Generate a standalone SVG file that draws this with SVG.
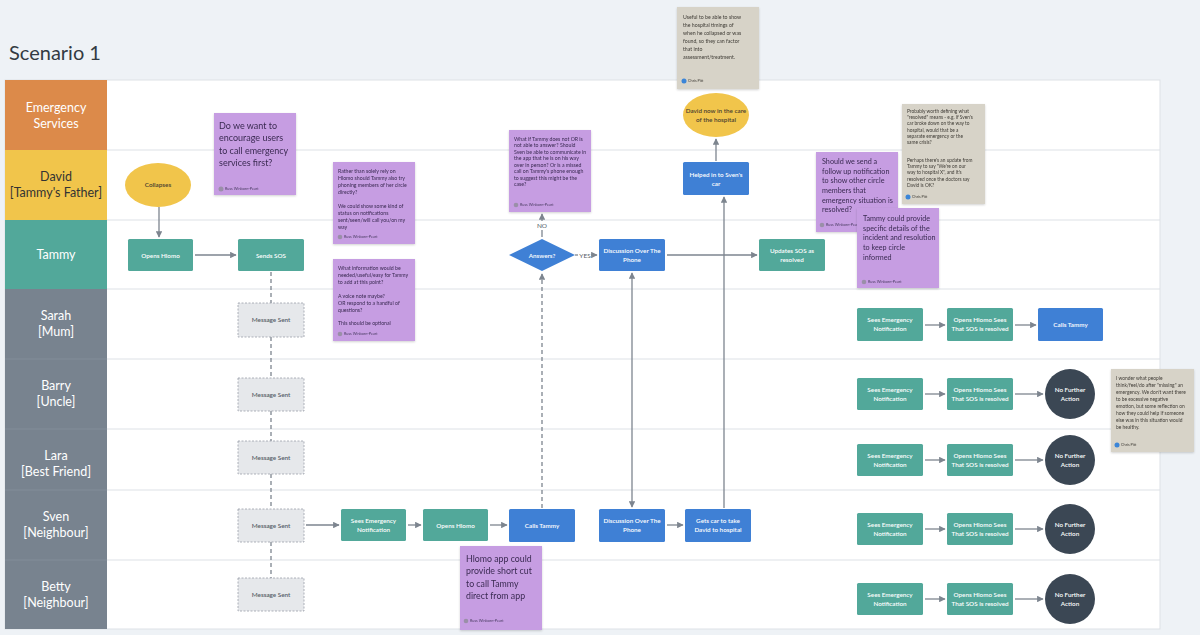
<svg xmlns="http://www.w3.org/2000/svg" width="1200" height="635" viewBox="0 0 1200 635">
<defs>
<marker id="ah" viewBox="0 0 10 10" refX="9" refY="5" markerWidth="5" markerHeight="5" orient="auto-start-reverse"><path d="M0,0 L10,5 L0,10 z" fill="#7d858f"/></marker>
<filter id="sh" x="-10%" y="-10%" width="130%" height="130%"><feDropShadow dx="0" dy="1" stdDeviation="1.2" flood-color="#000" flood-opacity="0.18"/></filter>
<style>
text{font-family:Lato,"Noto Sans","Liberation Sans",sans-serif}
.title{font-size:20px;fill:#333a42}
.lane{font-size:12.5px;fill:#fff;text-anchor:middle}
.lanedark{font-size:12.5px;fill:#333;text-anchor:middle}
.sep{stroke:#dde1e6;stroke-width:1}
.lsep{stroke:#8c96a1;stroke-width:0.6}
.teal{fill:#52a89a}
.blue{fill:#3f80d5}
.yel{fill:#f1c54b}
.dark{fill:#3b4754}
.msg{fill:#e6e8eb;stroke:#9aa0a8;stroke-width:0.8;stroke-dasharray:2 1.5}
.nt{font-size:6.3px;fill:#fff;text-anchor:middle;font-weight:600}
.ntd{font-size:6.3px;fill:#555c66;text-anchor:middle;font-weight:600}
.ntk{font-size:6.3px;fill:#4a4030;text-anchor:middle;font-weight:600}
.c{stroke:#7d858f;stroke-width:1.3;fill:none}
.cd{stroke:#7d858f;stroke-width:1.3;fill:none;stroke-dasharray:4 3}
.purple{fill:#c69de2}
.beige{fill:#d7d3c8}
.big{fill:#3a2a52}
.sm{font-size:5.2px;fill:#3a2a52}
.smb{font-size:5.2px;fill:#3f3c36}
.au{font-size:3.8px;fill:#4b3d63}
.aub{font-size:3.8px;fill:#3f3c36}
.lbl{font-size:6.5px;fill:#555c66;text-anchor:middle}
</style>
</defs>
<rect x="0" y="0" width="1200" height="635" fill="#eef2f6"/>
<text class="title" x="9" y="60">Scenario 1</text>
<rect x="5" y="80" width="1155" height="549" fill="#fff" stroke="#dde1e6"/>
<g id="lanes">
<line class="sep" x1="107" y1="150" x2="1160" y2="150"/>
<line class="sep" x1="107" y1="220" x2="1160" y2="220"/>
<line class="sep" x1="107" y1="289" x2="1160" y2="289"/>
<line class="sep" x1="107" y1="359" x2="1160" y2="359"/>
<line class="sep" x1="107" y1="429" x2="1160" y2="429"/>
<line class="sep" x1="107" y1="490" x2="1160" y2="490"/>
<line class="sep" x1="107" y1="560" x2="1160" y2="560"/>
<rect x="5" y="80" width="102" height="70" fill="#dc8a4a"/>
<rect x="5" y="150" width="102" height="70" fill="#f1c54b"/>
<rect x="5" y="220" width="102" height="69" fill="#52a89a"/>
<rect x="5" y="289" width="102" height="340" fill="#78838f"/>
<line class="lsep" x1="5" y1="359" x2="107" y2="359"/>
<line class="lsep" x1="5" y1="429" x2="107" y2="429"/>
<line class="lsep" x1="5" y1="490" x2="107" y2="490"/>
<line class="lsep" x1="5" y1="560" x2="107" y2="560"/>
<text class="lane" x="56" y="112">Emergency</text><text class="lane" x="56" y="128">Services</text>
<text class="lanedark" x="56" y="181">David</text><text class="lanedark" x="56" y="197">[Tammy's Father]</text>
<text class="lane" x="56" y="259">Tammy</text>
<text class="lane" x="56" y="320">Sarah</text><text class="lane" x="56" y="336">[Mum]</text>
<text class="lane" x="56" y="390">Barry</text><text class="lane" x="56" y="406">[Uncle]</text>
<text class="lane" x="56" y="460">Lara</text><text class="lane" x="56" y="476">[Best Friend]</text>
<text class="lane" x="56" y="521">Sven</text><text class="lane" x="56" y="537">[Neighbour]</text>
<text class="lane" x="56" y="591">Betty</text><text class="lane" x="56" y="607">[Neighbour]</text>
</g>
<g id="connectors">
<line class="c" x1="159" y1="207" x2="159" y2="237" marker-end="url(#ah)"/>
<line class="c" x1="195" y1="255" x2="236" y2="255" marker-end="url(#ah)"/>
<line class="cd" x1="271" y1="272" x2="271" y2="303"/>
<line class="cd" x1="271" y1="337" x2="271" y2="378"/>
<line class="cd" x1="271" y1="411" x2="271" y2="441"/>
<line class="cd" x1="271" y1="474" x2="271" y2="509"/>
<line class="cd" x1="271" y1="542" x2="271" y2="578"/>
<line class="c" x1="306" y1="525" x2="339" y2="525" marker-end="url(#ah)"/>
<line class="c" x1="408" y1="525" x2="421" y2="525" marker-end="url(#ah)"/>
<line class="c" x1="490" y1="525" x2="507" y2="525" marker-end="url(#ah)"/>
<line class="cd" x1="542" y1="508" x2="542" y2="274" marker-end="url(#ah)"/>
<line class="c" x1="542" y1="237" x2="542" y2="230"/>
<line class="c" x1="542" y1="221" x2="542" y2="214" marker-end="url(#ah)"/>
<text class="lbl" x="542" y="228">NO</text>
<line class="c" x1="575" y1="255" x2="578" y2="255"/>
<text class="lbl" x="585" y="257.5">YES</text>
<line class="c" x1="591" y1="255" x2="597" y2="255" marker-end="url(#ah)"/>
<line class="c" x1="667" y1="255" x2="757" y2="255" marker-end="url(#ah)"/>
<line class="c" x1="632" y1="507" x2="632" y2="273" marker-start="url(#ah)" marker-end="url(#ah)"/>
<line class="c" x1="667" y1="525" x2="683" y2="525" marker-end="url(#ah)"/>
<line class="c" x1="724" y1="508" x2="724" y2="197" marker-end="url(#ah)"/>
<line class="c" x1="716" y1="161" x2="716" y2="139" marker-end="url(#ah)"/>
<line class="c" x1="925" y1="325" x2="945" y2="325" marker-end="url(#ah)"/>
<line class="c" x1="1015" y1="325" x2="1036" y2="325" marker-end="url(#ah)"/>
<line class="c" x1="925" y1="394" x2="945" y2="394" marker-end="url(#ah)"/>
<line class="c" x1="1015" y1="394" x2="1043" y2="394" marker-end="url(#ah)"/>
<line class="c" x1="925" y1="460" x2="945" y2="460" marker-end="url(#ah)"/>
<line class="c" x1="1015" y1="460" x2="1043" y2="460" marker-end="url(#ah)"/>
<line class="c" x1="925" y1="529" x2="945" y2="529" marker-end="url(#ah)"/>
<line class="c" x1="1015" y1="529" x2="1043" y2="529" marker-end="url(#ah)"/>
<line class="c" x1="925" y1="599" x2="945" y2="599" marker-end="url(#ah)"/>
<line class="c" x1="1015" y1="599" x2="1043" y2="599" marker-end="url(#ah)"/>
</g>
<g id="collapses"><ellipse class="yel" cx="158" cy="185" rx="33" ry="22"/><text class="ntk" x="158" y="187">Collapses</text></g>
<g id="david-hospital"><ellipse class="yel" cx="716" cy="115" rx="33" ry="22"/><text class="ntk" x="716" y="113">David now in the care</text><text class="ntk" x="716" y="122">of the hospital</text></g>
<g id="helped"><rect class="blue" x="683" y="162" width="66" height="33" rx="1.5"/><text class="nt" x="716" y="177">Helped in to Sven's</text><text class="nt" x="716" y="186">car</text></g>
<g id="tammy-opens"><rect class="teal" x="128" y="239" width="65" height="32" rx="1.5"/><text class="nt" x="160.5" y="257.5">Opens Hlomo</text></g>
<g id="tammy-sos"><rect class="teal" x="238" y="239" width="66" height="32" rx="1.5"/><text class="nt" x="271" y="257.5">Sends SOS</text></g>
<g id="answers"><path class="blue" d="M542,239 L575,255 L542,271 L509,255 z"/><text class="nt" x="542" y="257.5">Answers?</text></g>
<g id="tammy-discussion"><rect class="blue" x="599" y="239" width="66" height="32" rx="1.5"/><text class="nt" x="632" y="253">Discussion Over The</text><text class="nt" x="632" y="262">Phone</text></g>
<g id="tammy-updates"><rect class="teal" x="759" y="239" width="66" height="32" rx="1.5"/><text class="nt" x="792" y="253">Updates SOS as</text><text class="nt" x="792" y="262">resolved</text></g>
<g id="msg-sarah"><rect class="msg" x="238" y="303" width="66" height="34"/><text class="ntd" x="271" y="322">Message Sent</text></g>
<g id="msg-barry"><rect class="msg" x="238" y="378" width="66" height="33"/><text class="ntd" x="271" y="396.5">Message Sent</text></g>
<g id="msg-lara"><rect class="msg" x="238" y="441" width="66" height="33"/><text class="ntd" x="271" y="459.5">Message Sent</text></g>
<g id="msg-sven"><rect class="msg" x="238" y="509" width="66" height="33"/><text class="ntd" x="271" y="527.5">Message Sent</text></g>
<g id="msg-betty"><rect class="msg" x="238" y="578" width="66" height="33"/><text class="ntd" x="271" y="596.5">Message Sent</text></g>
<g id="sven-sees"><rect class="teal" x="341" y="509" width="65" height="32" rx="1.5"/><text class="nt" x="373.5" y="523">Sees Emergency</text><text class="nt" x="373.5" y="532">Notification</text></g>
<g id="sven-opens"><rect class="teal" x="423" y="509" width="65" height="32" rx="1.5"/><text class="nt" x="455.5" y="527.5">Opens Hlomo</text></g>
<g id="sven-calls"><rect class="blue" x="509" y="509" width="66" height="33" rx="1.5"/><text class="nt" x="542" y="527.5">Calls Tammy</text></g>
<g id="sven-discussion"><rect class="blue" x="599" y="509" width="66" height="33" rx="1.5"/><text class="nt" x="632" y="523">Discussion Over The</text><text class="nt" x="632" y="532">Phone</text></g>
<g id="sven-car"><rect class="blue" x="685" y="509" width="66" height="33" rx="1.5"/><text class="nt" x="718" y="523">Gets car to take</text><text class="nt" x="718" y="532">David to hospital</text></g>
<g id="sarah-sees"><rect class="teal" x="857" y="308" width="66" height="33" rx="1.5"/><text class="nt" x="890" y="322">Sees Emergency</text><text class="nt" x="890" y="331">Notification</text></g>
<g id="sarah-opens"><rect class="teal" x="947" y="308" width="66" height="33" rx="1.5"/><text class="nt" x="980" y="322">Opens Hlomo Sees</text><text class="nt" x="980" y="331">That SOS is resolved</text></g>
<g id="sarah-calls"><rect class="blue" x="1038" y="308" width="65" height="33" rx="1.5"/><text class="nt" x="1070.5" y="326.5">Calls Tammy</text></g>
<g id="barry-sees"><rect class="teal" x="857" y="378" width="66" height="32" rx="1.5"/><text class="nt" x="890" y="391.5">Sees Emergency</text><text class="nt" x="890" y="400.5">Notification</text></g>
<g id="barry-opens"><rect class="teal" x="947" y="378" width="66" height="32" rx="1.5"/><text class="nt" x="980" y="391.5">Opens Hlomo Sees</text><text class="nt" x="980" y="400.5">That SOS is resolved</text></g>
<g id="barry-end"><circle class="dark" cx="1070" cy="394" r="25"/><text class="nt" x="1070" y="391.5">No Further</text><text class="nt" x="1070" y="400.5">Action</text></g>
<g id="lara-sees"><rect class="teal" x="857" y="444" width="66" height="32" rx="1.5"/><text class="nt" x="890" y="457.5">Sees Emergency</text><text class="nt" x="890" y="466.5">Notification</text></g>
<g id="lara-opens"><rect class="teal" x="947" y="444" width="66" height="32" rx="1.5"/><text class="nt" x="980" y="457.5">Opens Hlomo Sees</text><text class="nt" x="980" y="466.5">That SOS is resolved</text></g>
<g id="lara-end"><circle class="dark" cx="1070" cy="460" r="25"/><text class="nt" x="1070" y="457.5">No Further</text><text class="nt" x="1070" y="466.5">Action</text></g>
<g id="sven-sees2"><rect class="teal" x="857" y="513" width="66" height="32" rx="1.5"/><text class="nt" x="890" y="526.5">Sees Emergency</text><text class="nt" x="890" y="535.5">Notification</text></g>
<g id="sven-opens2"><rect class="teal" x="947" y="513" width="66" height="32" rx="1.5"/><text class="nt" x="980" y="526.5">Opens Hlomo Sees</text><text class="nt" x="980" y="535.5">That SOS is resolved</text></g>
<g id="sven-end"><circle class="dark" cx="1070" cy="529" r="25"/><text class="nt" x="1070" y="526.5">No Further</text><text class="nt" x="1070" y="535.5">Action</text></g>
<g id="betty-sees"><rect class="teal" x="857" y="583" width="66" height="32" rx="1.5"/><text class="nt" x="890" y="596.5">Sees Emergency</text><text class="nt" x="890" y="605.5">Notification</text></g>
<g id="betty-opens"><rect class="teal" x="947" y="583" width="66" height="32" rx="1.5"/><text class="nt" x="980" y="596.5">Opens Hlomo Sees</text><text class="nt" x="980" y="605.5">That SOS is resolved</text></g>
<g id="betty-end"><circle class="dark" cx="1070" cy="599" r="25"/><text class="nt" x="1070" y="596.5">No Further</text><text class="nt" x="1070" y="605.5">Action</text></g>

<g id="note-emergency" filter="url(#sh)"><rect class="purple" x="214" y="113" width="82" height="82"/>
<text class="big" style="font-size:10px" transform="translate(219,0) scale(0.9,1)"><tspan x="0" y="129">Do we want to</tspan><tspan x="0" y="141.5">encourage users</tspan><tspan x="0" y="154">to call emergency</tspan><tspan x="0" y="166.5">services first?</tspan></text>
<circle cx="221" cy="189" r="2.5" fill="#9a8fa8"/><text class="au" x="225" y="190.3">Russ Winborn-Peart</text></g>

<g id="note-phoning" filter="url(#sh)"><rect class="purple" x="333" y="162" width="82" height="82"/>
<text class="sm"><tspan x="338" y="172.5">Rather than solely rely on</tspan><tspan x="338" y="179.5">Hlomo should Tammy also try</tspan><tspan x="338" y="186.5">phoning members of her circle</tspan><tspan x="338" y="193.5">directly?</tspan><tspan x="338" y="208">We could show some kind of</tspan><tspan x="338" y="215">status on notifications</tspan><tspan x="338" y="222">sent/seen/will call you/on my</tspan><tspan x="338" y="229">way</tspan></text>
<circle cx="340" cy="237" r="2.3" fill="#9a8fa8"/><text class="au" x="344" y="238.3">Russ Winborn-Peart</text></g>

<g id="note-info" filter="url(#sh)"><rect class="purple" x="333" y="259" width="82" height="82"/>
<text class="sm"><tspan x="338" y="269.5">What information would be</tspan><tspan x="338" y="276.5">needed/useful/easy for Tammy</tspan><tspan x="338" y="283.5">to add at this point?</tspan><tspan x="338" y="297.5">A voice note maybe?</tspan><tspan x="338" y="304.5">OR respond to a handful of</tspan><tspan x="338" y="311.5">questions?</tspan><tspan x="338" y="324.5">This should be optional</tspan></text>
<circle cx="340" cy="334" r="2.3" fill="#9a8fa8"/><text class="au" x="344" y="335.3">Russ Winborn-Peart</text></g>

<g id="note-answer" filter="url(#sh)"><rect class="purple" x="509" y="130" width="82" height="82"/>
<text class="sm"><tspan x="514" y="140.5">What if Tammy does not OR is</tspan><tspan x="514" y="147">not able to answer? Should</tspan><tspan x="514" y="153.5">Sven be able to communicate in</tspan><tspan x="514" y="160">the app that he is on his way</tspan><tspan x="514" y="166.5">over in person? Or is a missed</tspan><tspan x="514" y="173">call on Tammy's phone enough</tspan><tspan x="514" y="179.5">to suggest this might be the</tspan><tspan x="514" y="186">case?</tspan></text>
<circle cx="516" cy="205" r="2.3" fill="#9a8fa8"/><text class="au" x="520" y="206.3">Russ Winborn-Peart</text></g>

<g id="note-hospital" filter="url(#sh)"><rect class="beige" x="677" y="7" width="82" height="82"/>
<text class="smb"><tspan x="683" y="18.5">Useful to be able to show</tspan><tspan x="683" y="26.5">the hospital timings of</tspan><tspan x="683" y="34.5">when he collapsed or was</tspan><tspan x="683" y="42.5">found, so they can factor</tspan><tspan x="683" y="50.5">that into</tspan><tspan x="683" y="58.5">assessment/treatment.</tspan></text>
<circle cx="684" cy="81" r="2.5" fill="#3a85d8"/><text class="aub" x="688" y="82.3">Chris Pitt</text></g>

<g id="note-resolved" filter="url(#sh)"><rect class="beige" x="902" y="104" width="83" height="100"/>
<text class="smb" style="font-size:4.8px"><tspan x="907" y="113">Probably worth defining what</tspan><tspan x="907" y="119.2">"resolved" means - e.g. if Sven's</tspan><tspan x="907" y="125.4">car broke down on the way to</tspan><tspan x="907" y="131.6">hospital, would that be a</tspan><tspan x="907" y="137.8">separate emergency or the</tspan><tspan x="907" y="144">same crisis?</tspan><tspan x="907" y="162">Perhaps there's an update from</tspan><tspan x="907" y="168.2">Tammy to say "We're on our</tspan><tspan x="907" y="174.4">way to hospital X", and it's</tspan><tspan x="907" y="180.6">resolved once the doctors say</tspan><tspan x="907" y="186.8">David is OK?</tspan></text>
<circle cx="908" cy="197" r="2.5" fill="#3a85d8"/><text class="aub" x="912" y="198.3">Chris Pitt</text></g>

<g id="note-followup" filter="url(#sh)"><rect class="purple" x="816" y="152" width="82" height="80"/>
<text class="big" style="font-size:8.4px" transform="translate(822,0) scale(0.86,1)"><tspan x="0" y="164">Should we send a</tspan><tspan x="0" y="173.7">follow up notification</tspan><tspan x="0" y="183.4">to show other circle</tspan><tspan x="0" y="193.1">members that</tspan><tspan x="0" y="202.8">emergency situation is</tspan><tspan x="0" y="212.5">resolved?</tspan></text>
<circle cx="822" cy="225" r="2.3" fill="#9a8fa8"/><text class="au" x="826" y="226.3">Russ Winborn-Peart</text></g>

<g id="note-details" filter="url(#sh)"><rect class="purple" x="857" y="208" width="82" height="80"/>
<text class="big" style="font-size:8.4px" transform="translate(863,0) scale(0.86,1)"><tspan x="0" y="221">Tammy could provide</tspan><tspan x="0" y="230.7">specific details of the</tspan><tspan x="0" y="240.4">incident and resolution</tspan><tspan x="0" y="250.1">to keep circle</tspan><tspan x="0" y="259.8">informed</tspan></text>
<circle cx="864" cy="282" r="2.3" fill="#9a8fa8"/><text class="au" x="868" y="283.3">Russ Winborn-Peart</text></g>

<g id="note-missing" filter="url(#sh)"><rect class="beige" x="1111" y="369" width="83" height="83"/>
<text class="smb" style="font-size:4.9px"><tspan x="1116" y="380">I wonder what people</tspan><tspan x="1116" y="387">think/feel/do after "missing" an</tspan><tspan x="1116" y="394">emergency. We don't want there</tspan><tspan x="1116" y="401">to be excessive negative</tspan><tspan x="1116" y="408">emotion, but some reflection on</tspan><tspan x="1116" y="415">how they could help if someone</tspan><tspan x="1116" y="422">else was in this situation would</tspan><tspan x="1116" y="429">be healthy.</tspan></text>
<circle cx="1117" cy="445" r="2.5" fill="#3a85d8"/><text class="aub" x="1121" y="446.3">Chris Pitt</text></g>

<g id="note-shortcut" filter="url(#sh)"><rect class="purple" x="460" y="546" width="82" height="84"/>
<text class="big" style="font-size:10px" transform="translate(466,0) scale(0.88,1)"><tspan x="0" y="562">Hlomo app could</tspan><tspan x="0" y="574.5">provide short cut</tspan><tspan x="0" y="587">to call Tammy</tspan><tspan x="0" y="599.5">direct from app</tspan></text>
<circle cx="466" cy="621" r="2.3" fill="#9a8fa8"/><text class="au" x="470" y="622.3">Russ Winborn-Peart</text></g>
</svg>
